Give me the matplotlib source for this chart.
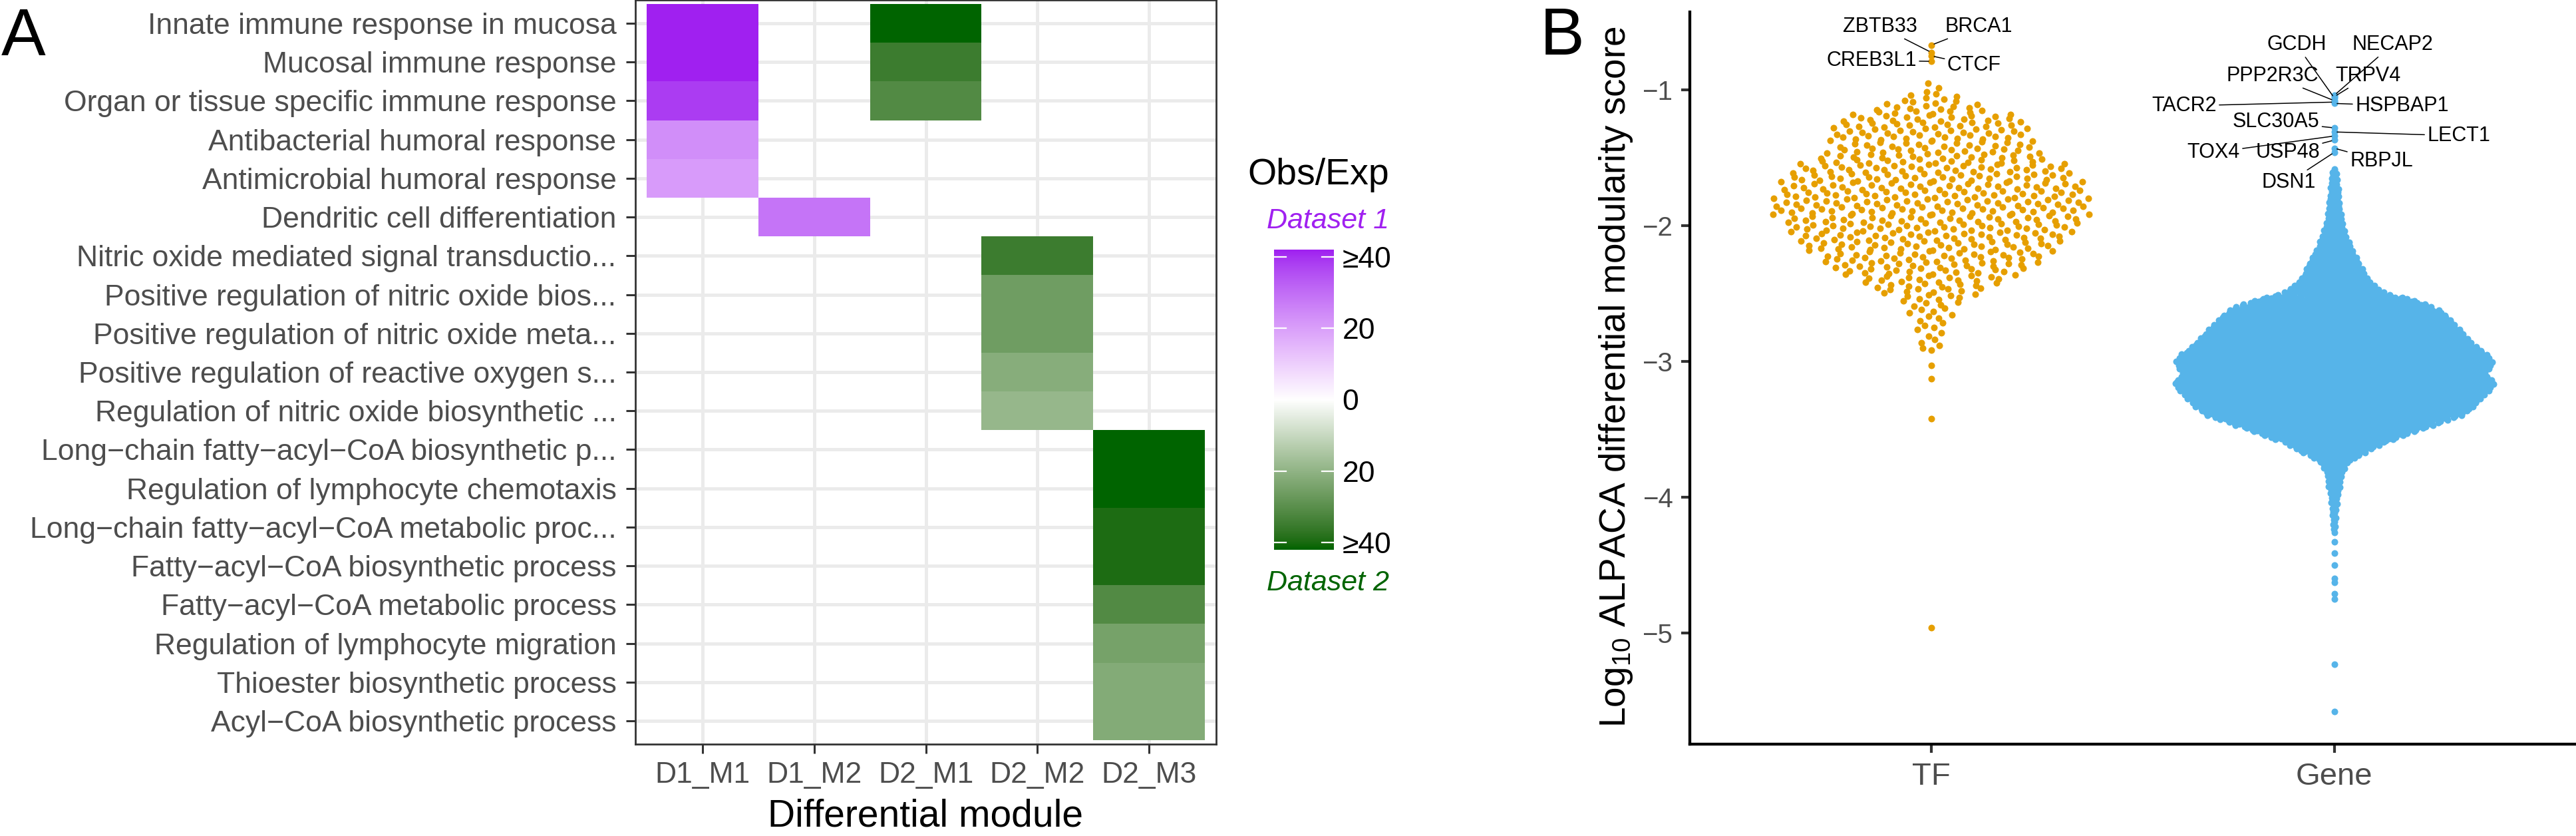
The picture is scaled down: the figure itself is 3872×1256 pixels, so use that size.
import numpy as np
import matplotlib
matplotlib.use("Agg")
import matplotlib.pyplot as plt
from matplotlib.colors import ListedColormap, Normalize

plt.rcParams['font.family'] = ['Liberation Sans', 'DejaVu Sans']
plt.rcParams['mathtext.fontset'] = 'custom'
plt.rcParams['mathtext.rm'] = 'Liberation Sans'
plt.rcParams['mathtext.default'] = 'regular'

# ---------------- Data: panel A (heatmap) ----------------
terms = [
    "Innate immune response in mucosa",
    "Mucosal immune response",
    "Organ or tissue specific immune response",
    "Antibacterial humoral response",
    "Antimicrobial humoral response",
    "Dendritic cell differentiation",
    "Nitric oxide mediated signal transductio...",
    "Positive regulation of nitric oxide bios...",
    "Positive regulation of nitric oxide meta...",
    "Positive regulation of reactive oxygen s...",
    "Regulation of nitric oxide biosynthetic ...",
    "Long\u2212chain fatty\u2212acyl\u2212CoA biosynthetic p...",
    "Regulation of lymphocyte chemotaxis",
    "Long\u2212chain fatty\u2212acyl\u2212CoA metabolic proc...",
    "Fatty\u2212acyl\u2212CoA biosynthetic process",
    "Fatty\u2212acyl\u2212CoA metabolic process",
    "Regulation of lymphocyte migration",
    "Thioester biosynthetic process",
    "Acyl\u2212CoA biosynthetic process",
]
modules = ["D1_M1", "D1_M2", "D2_M1", "D2_M2", "D2_M3"]

tile_module = (["D1_M1"] * 5 + ["D1_M2"] + ["D2_M1"] * 3 + ["D2_M2"] * 5 + ["D2_M3"] * 8)
tile_term_idx = ([0, 1, 2, 3, 4] + [5] + [0, 1, 2] + [6, 7, 8, 9, 10] +
                 [11, 12, 13, 14, 15, 16, 17, 18])
tile_obs_exp = ([42, 42, 38.5, 23.5, 20.8] + [28.6] + [42, 35.2, 31.4] +
                [35.2, 26.2, 26.2, 21.8, 19.0] +
                [42, 42, 39.6, 39.6, 31.5, 24.9, 22.4, 22.4])
legend_ticks = [-40, -20, 0, 20, 40]
legend_labels = ["\u226540", "20", "0", "20", "\u226540"]

# ---------------- Data: panel B (beeswarm) ----------------
groups = ["TF", "Gene"]
bin_h = 0.05
tf_bin_centers = np.round(np.arange(-0.95, -2.901, -0.05), 2)
tf_bin_counts = [1, 2, 5, 8, 11, 15, 17, 17, 17, 17, 18, 20, 23, 24, 25, 26, 26, 27, 27, 27,
                 26, 25, 24, 23, 22, 20, 19, 18, 15, 13, 11, 8, 6, 4, 4, 3, 3, 2, 2, 3]
tf_single = [-0.67, -0.725, -0.75, -0.79, -3.03, -3.13, -3.42, -4.96]

gene_bin_centers = np.round(np.arange(-1.60, -4.251, -0.05), 2)
gene_bin_counts = [4, 5, 6, 7, 8, 9, 10, 12, 14, 17, 21, 25, 30, 36, 41, 46, 53, 63, 81, 122,
                   152, 168, 178, 188, 198, 208, 218, 234, 241, 238, 229, 245, 239, 229, 218,
                   208, 193, 162, 132, 104, 76, 56, 36, 20, 14, 11, 10, 8, 6, 5, 4, 3, 3, 2]
gene_single = [-1.28, -1.31, -1.34, -1.37, -1.43, -1.46, -4.33, -4.41, -4.50, -4.60,
               -4.63, -4.71, -4.75, -5.23, -5.58]
gene_top = [-1.04, -1.05, -1.06, -1.08, -1.09, -1.10]

tf_labels = ["BRCA1", "ZBTB33", "CTCF", "CREB3L1"]
tf_label_vals = [-0.67, -0.725, -0.75, -0.79]
tf_label_pos = [(1.117, -0.534), (0.873, -0.534), (1.106, -0.819), (0.851, -0.784)]

gene_labels = ["NECAP2", "TRPV4", "GCDH", "PPP2R3C", "TACR2", "HSPBAP1",
               "SLC30A5", "LECT1", "TOX4", "USP48", "RBPJL", "DSN1"]
gene_label_vals = [-1.04, -1.05, -1.06, -1.08, -1.09, -1.10,
                   -1.28, -1.31, -1.34, -1.37, -1.43, -1.46]
gene_label_pos = [(2.144, -0.667), (2.084, -0.897), (1.906, -0.667), (1.847, -0.897),
                  (1.627, -1.118), (2.168, -1.118), (1.855, -1.235), (2.309, -1.338),
                  (1.700, -1.461), (1.884, -1.461), (2.117, -1.525), (1.886, -1.681)]

# ---------------- colour helpers (CIELAB ramp like ggplot) ----------------
_M = np.array([[0.4124564, 0.3575761, 0.1804375],
               [0.2126729, 0.7151522, 0.0721750],
               [0.0193339, 0.1191920, 0.9503041]])
_WHITE = _M @ np.ones(3)


def _to_lin(c):
    c = np.asarray(c, float)
    return np.where(c <= 0.04045, c / 12.92, ((c + 0.055) / 1.055) ** 2.4)


def _to_srgb(c):
    c = np.clip(c, 0, 1)
    return np.where(c <= 0.0031308, 12.92 * c, 1.055 * c ** (1 / 2.4) - 0.055)


def rgb2lab(rgb):
    xyz = (_M @ _to_lin(rgb)) / _WHITE
    d = 6 / 29
    f = np.where(xyz > d ** 3, np.cbrt(xyz), xyz / (3 * d * d) + 4 / 29)
    return np.array([116 * f[1] - 16, 500 * (f[0] - f[1]), 200 * (f[1] - f[2])])


def lab2rgb(lab):
    L, a, b = lab
    fy = (L + 16) / 116
    f = np.array([fy + a / 500, fy, fy - b / 200])
    d = 6 / 29
    xyz = np.where(f > d, f ** 3, 3 * d * d * (f - 4 / 29)) * _WHITE
    return _to_srgb(np.linalg.solve(_M, xyz))


def hex2rgb(h):
    h = h.lstrip('#')
    return np.array([int(h[i:i + 2], 16) / 255 for i in (0, 2, 4)])


LIM = 42.0
lab_w = rgb2lab(np.ones(3))
lab_p = rgb2lab(hex2rgb("#A020F0"))
lab_g = rgb2lab(hex2rgb("#006400"))
vals = np.linspace(-LIM, LIM, 513)
cols = []
for v in vals:
    t = abs(v) / LIM
    end = lab_p if v > 0 else lab_g
    cols.append(lab2rgb(lab_w + (end - lab_w) * t))
cmap = ListedColormap(np.clip(np.array(cols), 0, 1))
norm = Normalize(-LIM, LIM)

# ---------------- figure ----------------
W, H = 3872, 1256
fig = plt.figure(figsize=(W / 100, H / 100), dpi=100)


def fx(px):
    return px / W


def fy(py):
    return 1 - py / H


# ---- Panel A ----
axA = fig.add_axes([fx(955), fy(1118), (1828 - 955) / W, 1118 / H])
Z = np.full((len(terms), len(modules)), np.nan)
for m, ti, v in zip(tile_module, tile_term_idx, tile_obs_exp):
    sign = 1 if m.startswith("D1") else -1
    Z[ti, modules.index(m)] = sign * v
Zm = np.ma.masked_invalid(Z)
xe = np.arange(len(modules) + 1) + 0.5
ye = np.arange(len(terms) + 1) + 0.5
axA.pcolormesh(xe, ye, Zm, cmap=cmap, norm=norm, shading='flat', zorder=2,
               edgecolors='none', antialiased=False)
axA.set_xlim(0.4, len(modules) + 0.6)
axA.set_ylim(len(terms) + 0.6, 0.4)
axA.set_xticks(np.arange(1, len(modules) + 1))
axA.set_xticklabels(modules)
axA.set_yticks(np.arange(1, len(terms) + 1))
axA.set_yticklabels(terms)
axA.set_axisbelow(True)
axA.grid(True, color='#EBEBEB', lw=3.6, zorder=0)
for s in axA.spines.values():
    s.set_color('#333333')
    s.set_linewidth(2.0)
    s.set_zorder(5)
axA.tick_params(axis='both', colors='#333333', length=10, width=2.2,
                labelsize=32, labelcolor='#4D4D4D')
axA.tick_params(axis='y', pad=10.5)
axA.tick_params(axis='x', pad=9)
fig.text(fx(1391), fy(1226), "Differential module", ha='center', va='center',
         fontsize=41, color='black')
fig.text(fx(2), fy(83), "A", ha='left', va='baseline', fontsize=72)

# legend / colourbar
axC = fig.add_axes([fx(1915), fy(826), 90 / W, 451 / H])
grad = np.linspace(-LIM, LIM, 400).reshape(-1, 1)
axC.imshow(grad, aspect='auto', cmap=cmap, norm=norm, origin='lower',
           extent=[0, 1, -LIM, LIM])
axC.set_xlim(0, 1)
axC.set_ylim(-LIM, LIM)
for t in legend_ticks:
    axC.plot([0, 0.2], [t, t], color='white', lw=1.6)
    axC.plot([0.8, 1], [t, t], color='white', lw=1.6)
axC.set_xticks([])
axC.yaxis.tick_right()
axC.set_yticks(legend_ticks)
axC.set_yticklabels(legend_labels)
axC.tick_params(axis='y', length=0, pad=9, labelsize=32, labelcolor='black')
for s in axC.spines.values():
    s.set_visible(False)
fig.text(fx(2088), fy(277), "Obs/Exp", ha='right', va='baseline', fontsize=40)
fig.text(fx(2088), fy(343), "Dataset 1", ha='right', va='baseline', fontsize=31,
         style='italic', color='#A020F0')
fig.text(fx(2088), fy(887), "Dataset 2", ha='right', va='baseline', fontsize=31,
         style='italic', color='#006400')

# ---- Panel B ----
axB = fig.add_axes([fx(2540), fy(1118), 1332 / W, (1118 - 18) / H])


def expand_bins(centers, counts, h):
    out = []
    for c, k in zip(centers, counts):
        out.extend(c - h / 2 + (np.arange(k) + 0.5) * h / k)
    return np.array(out)


def vdc(n):
    v, den = 0.0, 1.0
    while n:
        den *= 2
        n, r = divmod(n, 2)
        v += r / den
    return v


def quasi(v, centers, counts, width=0.4):
    c = np.asarray(centers)[::-1]
    k = np.asarray(counts, float)[::-1]
    dens = np.interp(v, c, k, left=0, right=0) / k.max()
    order = np.argsort(v, kind='stable')
    off = np.zeros(len(v))
    for rank, i in enumerate(order):
        off[i] = (2 * vdc(rank + 1) - 1) * width * dens[i]
    return off


group_colors = {"TF": "#E69F00", "Gene": "#56B4E9"}
tf_vals = expand_bins(tf_bin_centers, tf_bin_counts, bin_h)
tf_off = quasi(tf_vals, tf_bin_centers, tf_bin_counts)
gene_vals = expand_bins(gene_bin_centers, gene_bin_counts, bin_h)
gene_off = quasi(gene_vals, gene_bin_centers, gene_bin_counts)

S = 52
axB.scatter(1 + tf_off, tf_vals, s=S, color=group_colors["TF"], lw=0, zorder=3)
axB.scatter(np.ones(len(tf_single)), tf_single, s=S, color=group_colors["TF"], lw=0, zorder=3)
axB.scatter(2 + gene_off, gene_vals, s=S, color=group_colors["Gene"], lw=0, zorder=3)
axB.scatter(np.full(len(gene_single), 2.0), gene_single, s=S, color=group_colors["Gene"],
            lw=0, zorder=3)
axB.scatter(np.full(len(gene_top), 2.0), gene_top, s=S, color=group_colors["Gene"],
            lw=0, zorder=3)

for name, v, (tx, ty) in zip(tf_labels, tf_label_vals, tf_label_pos):
    axB.annotate(name, xy=(1, v), xytext=(tx, ty), textcoords='data', ha='center',
                 va='center', fontsize=22, zorder=5,
                 arrowprops=dict(arrowstyle='-', color='black', lw=1.1, shrinkA=1, shrinkB=3))
for name, v, (tx, ty) in zip(gene_labels, gene_label_vals, gene_label_pos):
    axB.annotate(name, xy=(2, v), xytext=(tx, ty), textcoords='data', ha='center',
                 va='center', fontsize=22, zorder=5,
                 arrowprops=dict(arrowstyle='-', color='black', lw=1.1, shrinkA=1, shrinkB=3))

axB.set_xlim(0.4, 2.6)
axB.set_ylim(-5.819, -0.4265)
axB.set_xticks([1, 2])
axB.set_xticklabels(groups)
axB.set_yticks([-5, -4, -3, -2, -1])
for s in ['top', 'right']:
    axB.spines[s].set_visible(False)
for s in ['left', 'bottom']:
    axB.spines[s].set_color('black')
    axB.spines[s].set_linewidth(3.1)
axB.tick_params(axis='both', colors='#333333', length=9.5, width=3.0, labelcolor='#4D4D4D')
axB.tick_params(axis='y', labelsize=29, pad=9)
axB.tick_params(axis='x', labelsize=34, pad=10)
fig.text(fx(2429), fy(566), "Log$_{10}$ ALPACA differential modularity score",
         rotation=90, ha='center', va='center', fontsize=39.5)
fig.text(fx(2315), fy(82), "B", ha='left', va='baseline', fontsize=72)

fig.savefig("out.png", dpi=100)
